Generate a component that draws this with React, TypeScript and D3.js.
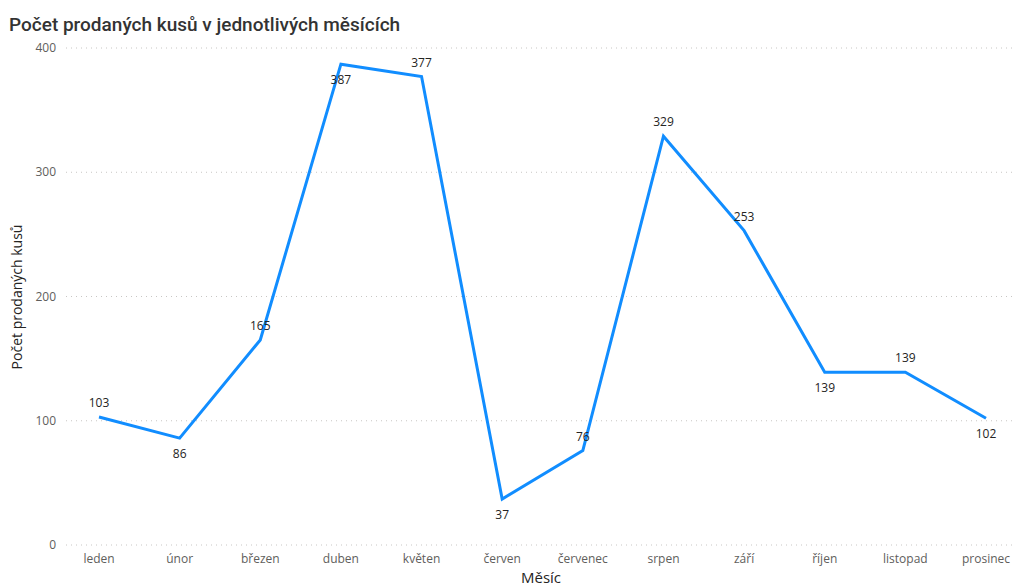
import React from "react";
import * as d3 from "d3";

const months = ["leden", "únor", "březen", "duben", "květen", "červen", "červenec", "srpen", "září", "říjen", "listopad", "prosinec"];
const values = [103, 86, 165, 387, 377, 37, 76, 329, 253, 139, 139, 102];
const labelSide = ["above", "below", "above", "below", "above", "below", "above", "above", "above", "below", "above", "below"];
const yTicks = [0, 100, 200, 300, 400];

export default function App() {
  const W = 1012, H = 588;
  const x = d3.scalePoint<string>().domain(months).range([99, 986]);
  const y = d3.scaleLinear().domain([0, 400]).range([545, 48]);
  const line = d3.line<number>().x((_, i) => x(months[i])!).y((d) => y(d));
  const font = "'Segoe UI', 'Open Sans', 'Noto Sans', sans-serif";
  return (
    <svg width={W} height={H} style={{ position: "absolute", left: 0, top: 0, background: "#fff" }} fontFamily={font}>
      <text x={9} y={31} fontSize={19} fontWeight={500} fill="#333333" fontFamily="Roboto, 'Noto Sans', sans-serif">Počet prodaných kusů v jednotlivých měsících</text>
      {yTicks.map((t) => (
        <g key={t}>
          <line x1={66} x2={1012} y1={y(t)} y2={y(t)} stroke="#C8C6C4" strokeDasharray="1,4" strokeWidth={1} />
          <text x={56} y={y(t)} dy="0.35em" textAnchor="end" fontSize={12} fill="#605E5C">{t}</text>
        </g>
      ))}
      {months.map((m) => (
        <text key={m} x={x(m)} y={563} textAnchor="middle" fontSize={12} fill="#605E5C">{m}</text>
      ))}
      <text transform={`translate(22,297) rotate(-90)`} textAnchor="middle" fontSize={14} fill="#252423">Počet prodaných kusů</text>
      <text x={541} y={583} textAnchor="middle" fontSize={15} fill="#252423">Měsíc</text>
      <path d={line(values) || ""} fill="none" stroke="#118DFF" strokeWidth={3} strokeLinejoin="miter" />
      {values.map((v, i) => (
        <text key={i} x={x(months[i])} y={labelSide[i] === "above" ? y(v) - 10 : y(v) + 20} textAnchor="middle" fontSize={12} fill="#252423">{v}</text>
      ))}
    </svg>
  );
}
